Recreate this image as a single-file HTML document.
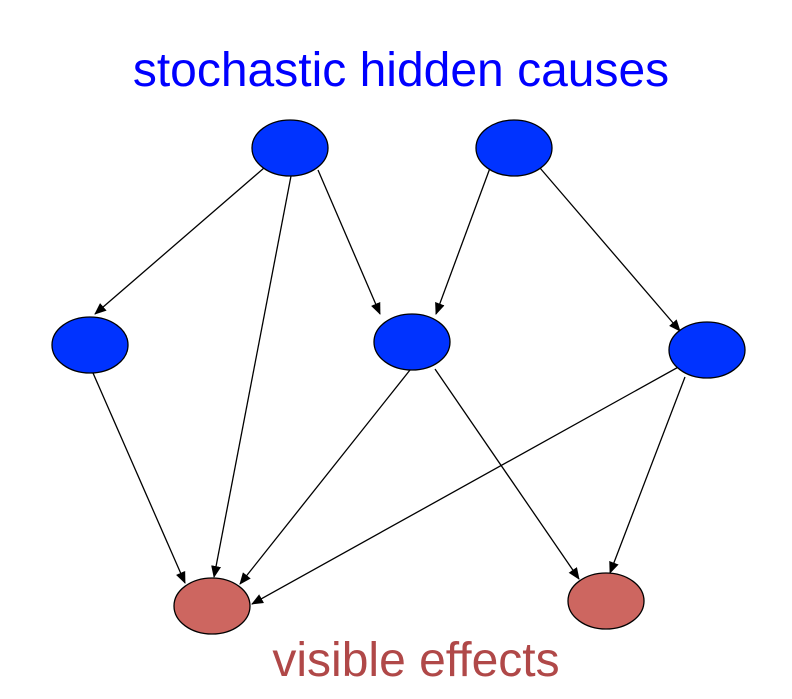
<!DOCTYPE html>
<html><head><style>body{margin:0;background:#fff}svg{display:block}</style></head><body>
<svg width="792" height="699" viewBox="0 0 792 699" xmlns="http://www.w3.org/2000/svg">
<defs><marker id="a" markerWidth="12" markerHeight="10" refX="11" refY="5" orient="auto" markerUnits="userSpaceOnUse"><path d="M0,0 L12,5 L0,10 z" fill="#000"/></marker></defs>
<text x="401" y="86" font-family="Liberation Sans, sans-serif" font-size="48" fill="#0000ff" text-anchor="middle">stochastic hidden causes</text>
<text x="416" y="676" font-family="Liberation Sans, sans-serif" font-size="48" fill="#b04848" text-anchor="middle">visible effects</text>
<g stroke="#000" stroke-width="1.3" marker-end="url(#a)">
<line x1="264" y1="168" x2="95" y2="314"/>
<line x1="291" y1="176" x2="214" y2="577"/>
<line x1="318" y1="170" x2="380" y2="314"/>
<line x1="490" y1="168" x2="436" y2="314"/>
<line x1="540" y1="168" x2="680" y2="331"/>
<line x1="93" y1="373" x2="185" y2="583"/>
<line x1="410" y1="370" x2="240" y2="584"/>
<line x1="435" y1="369" x2="579" y2="579"/>
<line x1="682" y1="365" x2="252" y2="604"/>
<line x1="685" y1="377" x2="610" y2="573"/>
</g>
<g stroke="#000" stroke-width="1.3">
<ellipse cx="290" cy="148" rx="38" ry="28" fill="#0033ff"/>
<ellipse cx="514" cy="148" rx="38" ry="28" fill="#0033ff"/>
<ellipse cx="90" cy="345" rx="38" ry="28" fill="#0033ff"/>
<ellipse cx="412" cy="342" rx="38" ry="28" fill="#0033ff"/>
<ellipse cx="707" cy="350" rx="38" ry="28" fill="#0033ff"/>
<ellipse cx="212" cy="606" rx="38" ry="28" fill="#cd6660"/>
<ellipse cx="606" cy="601" rx="38" ry="28" fill="#cd6660"/>
</g>
</svg>
</body></html>
